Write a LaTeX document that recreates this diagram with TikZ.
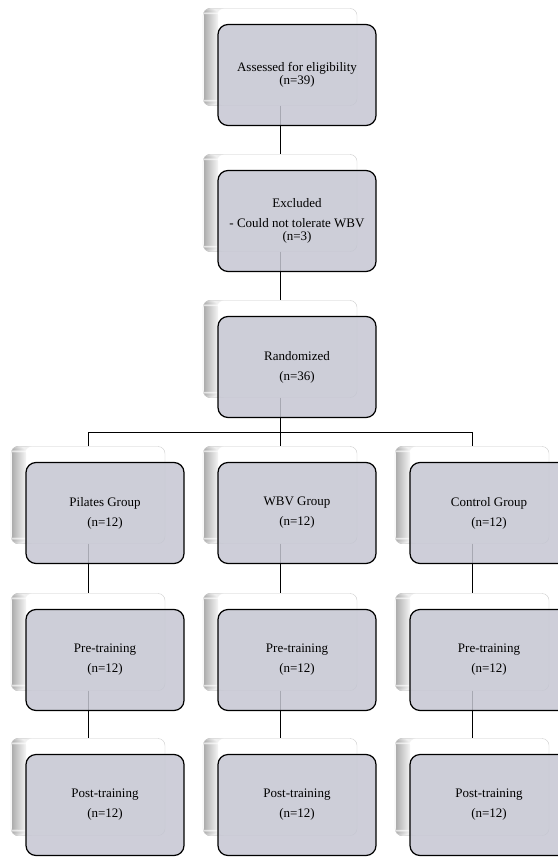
\documentclass[tikz,border=0pt]{standalone}
\usepackage{fontspec}
\setmainfont{Liberation Serif}
\definecolor{boxgray}{RGB}{197,198,210}
\tikzset{
  backbox/.style={draw=gray!40, fill=white, rounded corners=7pt,
    minimum width=154pt, minimum height=97pt, inner sep=0pt,
    path picture={\foreach \i in {0,...,13}
      \fill[black!\the\numexpr 32-2*\i\relax]
        ([xshift=\i pt+1pt]path picture bounding box.north west) rectangle
        ([xshift=\i pt+2pt]path picture bounding box.south west);}},
  frontbox/.style={draw=black, line width=1.2pt, fill=boxgray, fill opacity=0.85,
    text opacity=1, rounded corners=10pt, minimum width=158pt, minimum height=101pt,
    inner sep=1pt, align=center, font=\fontsize{13}{20}\selectfont},
  link/.style={draw=black, line width=0.9pt}
}
\begin{document}
\begin{tikzpicture}[x=1pt,y=-1pt]
\useasboundingbox (0,0) rectangle (557,858);
\foreach \n/\x/\y in {assess/280/57, excl/280/203, rand/280/349,
    pil/88/495, wbv/280/495, ctl/472/495,
    pilpre/88/642, wbvpre/280/642, ctlpre/472/642,
    pilpost/88/787, wbvpost/280/787, ctlpost/472/787}
  \node[backbox] (\n-b) at (\x,\y) {};
\coordinate (bus) at (280,432);
\draw[link] (assess-b.south) -- (excl-b.north);
\draw[link] (excl-b.south) -- (rand-b.north);
\draw[link] (rand-b.south) -- (wbv-b.north);
\draw[link] (pil-b.north) -- (pil-b.north |- bus) -- (ctl-b.north |- bus) -- (ctl-b.north);
\draw[link] (pil-b.south) -- (pilpre-b.north);
\draw[link] (wbv-b.south) -- (wbvpre-b.north);
\draw[link] (ctl-b.south) -- (ctlpre-b.north);
\draw[link] (pilpre-b.south) -- (pilpost-b.north);
\draw[link] (wbvpre-b.south) -- (wbvpost-b.north);
\draw[link] (ctlpre-b.south) -- (ctlpost-b.north);
\node[frontbox, font=\fontsize{13}{12.5}\selectfont] (assess) at (297,75) {Assessed for eligibility\\(n=39)};
\node[frontbox] (excl) at (297,221) {Excluded\\- Could not tolerate WBV\\[-7pt](n=3)};
\node[frontbox] (rand) at (297,367) {Randomized\\(n=36)};
\node[frontbox] (pil) at (105,513) {Pilates Group\\(n=12)};
\node[frontbox] (wbv) at (297,513) {WBV Group\\(n=12)};
\node[frontbox] (ctl) at (489,513) {Control Group\\(n=12)};
\node[frontbox] (pilpre) at (105,660) {Pre-training\\(n=12)};
\node[frontbox] (wbvpre) at (297,660) {Pre-training\\(n=12)};
\node[frontbox] (ctlpre) at (489,660) {Pre-training\\(n=12)};
\node[frontbox] (pilpost) at (105,805) {Post-training\\(n=12)};
\node[frontbox] (wbvpost) at (297,805) {Post-training\\(n=12)};
\node[frontbox] (ctlpost) at (489,805) {Post-training\\(n=12)};
\end{tikzpicture}
\end{document}
